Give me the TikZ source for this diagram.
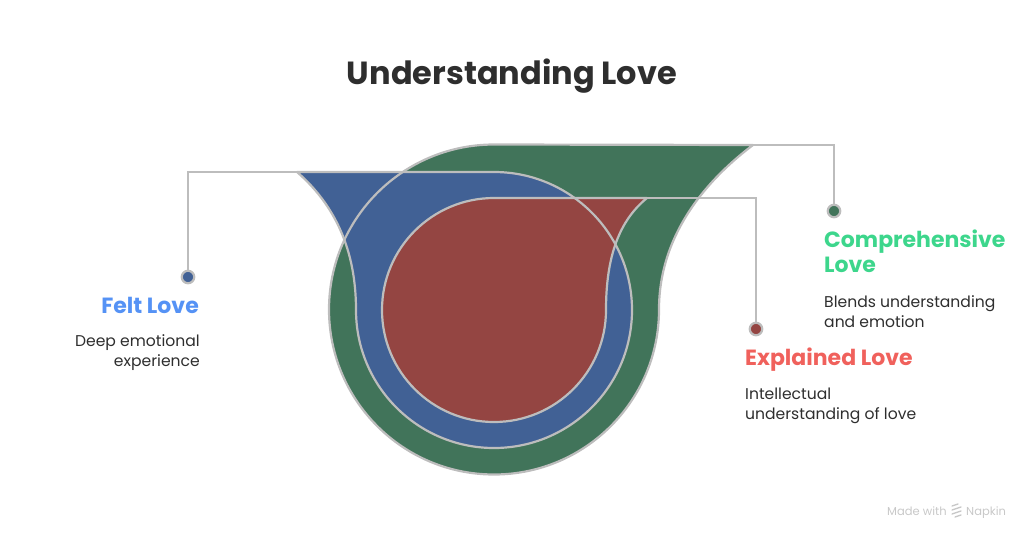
\documentclass[tikz,border=0pt]{standalone}
\usepackage{fontspec}
\setmainfont{Poppins}
\definecolor{gfill}{HTML}{41745A}
\definecolor{bfill}{HTML}{416195}
\definecolor{rfill}{HTML}{944542}
\definecolor{edge}{HTML}{BDBDBD}
\definecolor{txt}{HTML}{2E2E2E}
\definecolor{gtxt}{HTML}{3DD68C}
\definecolor{btxt}{HTML}{5592F5}
\definecolor{rtxt}{HTML}{F0615C}
\definecolor{wmark}{HTML}{C8C8C8}
\tikzset{
  outline/.style={draw=edge, line width=2.2pt, line join=round},
  conn/.style={draw=edge, line width=2.2pt},
  dotnode/.style={circle, minimum size=12.5pt, inner sep=0pt, draw=edge, line width=2.2pt},
  lbl/.style={inner sep=0pt, font=\fontsize{22}{25}\selectfont\bfseries},
  body/.style={inner sep=0pt, text=txt, font=\fontsize{15.6}{20}\selectfont},
}
\begin{document}
\begin{tikzpicture}[x=1pt, y=-1pt]
\useasboundingbox (0,0) rectangle (1024,541);
% named corners
\coordinate (gc) at (753,145);
\coordinate (bc) at (297,172);
\coordinate (rc) at (647,198);
% shape paths
\def\greenpath{(494,144.5) -- (gc) .. controls (700,185) and (659,240) .. (659,309.5) arc[start angle=0, end angle=270, radius=165] -- cycle}
\def\bluepath{(bc) -- (494,172) arc[start angle=270, end angle=540, radius=138] .. controls (356,250) and (335,205) .. (bc) -- cycle}
\def\redpath{(494,198) -- (rc) .. controls (620,220) and (606,255) .. (606,310) arc[start angle=0, end angle=270, radius=112] -- cycle}
\fill[gfill] \greenpath;
\fill[bfill] \bluepath;
\fill[rfill] \redpath;
\draw[outline] \greenpath;
\draw[outline] \bluepath;
\draw[outline] \redpath;
% title
\node[inner sep=0pt, anchor=base, text=txt, font=\fontsize{32}{36}\selectfont\bfseries] (title) at (512,84) {Understanding Love};
% dots and connectors
\node[dotnode, fill=bfill] (fdot) at (188,277) {};
\node[dotnode, fill=gfill] (cdot) at (834,211) {};
\node[dotnode, fill=rfill] (edot) at (756,329) {};
\draw[conn] (fdot) |- (bc);
\draw[conn] (cdot) |- (gc);
\draw[conn] (edot) |- (rc);
% labels
\node[lbl, text=btxt, anchor=base east] (fl) at (199,313) {Felt Love};
\node[body, anchor=base east] (fb1) at (200,346) {Deep emotional};
\node[body, anchor=base east] (fb2) at (200,366) {experience};
\node[lbl, text=gtxt, anchor=base west] (cl1) at (824,247) {Comprehensive};
\node[lbl, text=gtxt, anchor=base west] (cl2) at (824,272) {Love};
\node[body, anchor=base west] (cb1) at (824,307) {Blends understanding};
\node[body, anchor=base west] (cb2) at (824,327) {and emotion};
\node[lbl, text=rtxt, anchor=base west] (el) at (745,365) {Explained Love};
\node[body, anchor=base west] (eb1) at (745,399) {Intellectual};
\node[body, anchor=base west] (eb2) at (745,419) {understanding of love};
% watermark
\node[inner sep=0pt, anchor=base west, text=wmark, font=\fontsize{11.5}{14}\selectfont] (mw) at (887,515) {Made with};
\node[inner sep=0pt, anchor=base west, text=wmark, font=\fontsize{11.5}{14}\selectfont] (np) at (966,515) {Napkin};
\draw[wmark, line width=1.3pt, line cap=round] (952,506) -- (958,504) (952,510) -- (961,507) (952,514) -- (961,511) (955,517) -- (961,515);
\end{tikzpicture}
\end{document}
